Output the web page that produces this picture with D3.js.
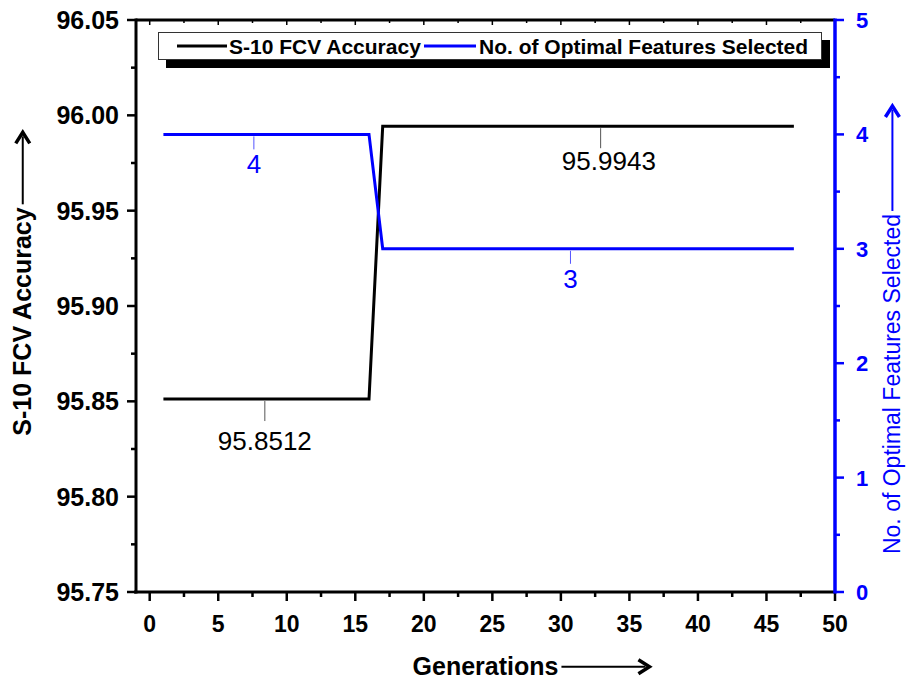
<!DOCTYPE html>
<html>
<head>
<meta charset="utf-8">
<script src="https://cdn.jsdelivr.net/npm/d3@7"></script>
<style>
  body { margin: 0; background: #fff; }
  text { font-family: "Liberation Sans", Arial, sans-serif; }
</style>
</head>
<body>
<svg id="chart" width="906" height="682"></svg>
<script>
// data
var generations = d3.range(1, 48);
var accuracy = generations.map(function (g) { return g <= 16 ? 95.8512 : 95.9943; });
var features = generations.map(function (g) { return g <= 16 ? 4 : 3; });
var xTicks = [0, 5, 10, 15, 20, 25, 30, 35, 40, 45, 50];
var yLeftTicks = [95.75, 95.80, 95.85, 95.90, 95.95, 96.00, 96.05];
var yRightTicks = [0, 1, 2, 3, 4, 5];
// value labels: tick mark x, text centre tx, text baseline ty (axis units)
var labels = [
    { series: "acc", x: 8.4, tx: 8.4, y: 95.8512, ty: 95.8245, text: "95.8512" },
    { series: "acc", x: 32.9, tx: 33.5, y: 95.9943, ty: 95.9715, text: "95.9943" },
    { series: "feat", x: 7.6, tx: 7.6, y: 4, ty: 3.66, text: "4" },
    { series: "feat", x: 30.7, tx: 30.7, y: 3, ty: 2.66, text: "3" }
];

var blue = "#0000ff";
var svg = d3.select("#chart");
var mLeft = 136, mRight = 835, mTop = 20, mBottom = 592;

var x = d3.scaleLinear().domain([-1, 50]).range([mLeft, mRight]);
var yL = d3.scaleLinear().domain([95.75, 96.05]).range([mBottom, mTop]);
var yR = d3.scaleLinear().domain([0, 5]).range([mBottom, mTop]);

// minor ticks halfway between majors
function minor(arr) {
    var out = [];
    for (var i = 0; i < arr.length - 1; i++) out.push((arr[i] + arr[i + 1]) / 2);
    return out;
}

// bottom axis
var gx = svg.append("g").attr("transform", "translate(0," + mBottom + ")");
gx.selectAll("line.maj").data(xTicks).enter().append("line")
    .attr("x1", function (d) { return x(d); }).attr("x2", function (d) { return x(d); })
    .attr("y1", 0).attr("y2", 9).attr("stroke", "#000").attr("stroke-width", 2.5);
gx.selectAll("line.min").data(minor(xTicks)).enter().append("line")
    .attr("x1", function (d) { return x(d); }).attr("x2", function (d) { return x(d); })
    .attr("y1", 0).attr("y2", 5).attr("stroke", "#000").attr("stroke-width", 2.5);
gx.selectAll("text").data(xTicks).enter().append("text")
    .attr("x", function (d) { return x(d); }).attr("y", 40)
    .attr("text-anchor", "middle").attr("font-size", 23).attr("font-weight", "bold")
    .text(function (d) { return d; });

// top frame ticks (inward)
var gt = svg.append("g").attr("transform", "translate(0," + mTop + ")");
gt.selectAll("line.maj").data(xTicks).enter().append("line")
    .attr("x1", function (d) { return x(d); }).attr("x2", function (d) { return x(d); })
    .attr("y1", 0).attr("y2", 5).attr("stroke", "#000").attr("stroke-width", 1.5);
gt.selectAll("line.min").data(minor(xTicks)).enter().append("line")
    .attr("x1", function (d) { return x(d); }).attr("x2", function (d) { return x(d); })
    .attr("y1", 0).attr("y2", 3).attr("stroke", "#000").attr("stroke-width", 1.5);

// left axis
var gl = svg.append("g").attr("transform", "translate(" + mLeft + ",0)");
gl.selectAll("line.maj").data(yLeftTicks).enter().append("line")
    .attr("y1", function (d) { return yL(d); }).attr("y2", function (d) { return yL(d); })
    .attr("x1", 0).attr("x2", -9).attr("stroke", "#000").attr("stroke-width", 2.5);
gl.selectAll("line.min").data(minor(yLeftTicks)).enter().append("line")
    .attr("y1", function (d) { return yL(d); }).attr("y2", function (d) { return yL(d); })
    .attr("x1", 0).attr("x2", -5).attr("stroke", "#000").attr("stroke-width", 2.5);
gl.selectAll("text").data(yLeftTicks).enter().append("text")
    .attr("x", -17).attr("y", function (d) { return yL(d) + 9; })
    .attr("text-anchor", "end").attr("font-size", 25).attr("font-weight", "bold")
    .text(function (d) { return d3.format(".2f")(d); });

// right axis
var gr = svg.append("g").attr("transform", "translate(" + mRight + ",0)");
gr.selectAll("line.maj").data(yRightTicks).enter().append("line")
    .attr("y1", function (d) { return yR(d); }).attr("y2", function (d) { return yR(d); })
    .attr("x1", 0).attr("x2", 9).attr("stroke", blue).attr("stroke-width", 2.5);
gr.selectAll("line.min").data(minor(yRightTicks)).enter().append("line")
    .attr("y1", function (d) { return yR(d); }).attr("y2", function (d) { return yR(d); })
    .attr("x1", 0).attr("x2", 5).attr("stroke", blue).attr("stroke-width", 2.5);
gr.selectAll("text").data(yRightTicks).enter().append("text")
    .attr("x", 21).attr("y", function (d) { return yR(d) + 8; })
    .attr("text-anchor", "start").attr("font-size", 22).attr("font-weight", "bold")
    .attr("fill", blue)
    .text(function (d) { return d; });

// frame
svg.append("line").attr("x1", mLeft).attr("x2", mRight).attr("y1", mTop).attr("y2", mTop)
    .attr("stroke", "#000").attr("stroke-width", 3);
svg.append("line").attr("x1", mLeft - 2).attr("x2", mRight).attr("y1", mBottom).attr("y2", mBottom)
    .attr("stroke", "#000").attr("stroke-width", 3);
svg.append("line").attr("x1", mLeft).attr("x2", mLeft).attr("y1", mTop - 1.5).attr("y2", mBottom + 1.5)
    .attr("stroke", "#000").attr("stroke-width", 3);
svg.append("line").attr("x1", mRight).attr("x2", mRight).attr("y1", mTop - 1.5).attr("y2", mBottom + 1.5)
    .attr("stroke", blue).attr("stroke-width", 3.5);

// series
var lineAcc = d3.line().x(function (d, i) { return x(generations[i]); }).y(function (d) { return yL(d); });
var lineFeat = d3.line().x(function (d, i) { return x(generations[i]); }).y(function (d) { return yR(d); });

svg.append("path").datum(accuracy).attr("d", lineAcc)
    .attr("fill", "none").attr("stroke", "#000").attr("stroke-width", 3);
svg.append("path").datum(features).attr("d", lineFeat)
    .attr("fill", "none").attr("stroke", blue).attr("stroke-width", 3);

// value annotations
labels.forEach(function (l) {
    var acc = l.series === "acc";
    var ys = acc ? yL : yR;
    var yy = ys(l.y);
    svg.append("line").attr("x1", x(l.x)).attr("x2", x(l.x))
        .attr("y1", yy + 2).attr("y2", yy + (acc ? 22 : 15))
        .attr("stroke", acc ? "#555" : "#5555ff").attr("stroke-width", 1);
    svg.append("text").attr("x", x(l.tx)).attr("y", ys(l.ty))
        .attr("text-anchor", "middle").attr("font-size", 26).attr("fill", acc ? "#000" : blue)
        .text(l.text);
});

// legend
var lg = svg.append("g");
lg.append("rect").attr("x", 166).attr("y", 40).attr("width", 664).attr("height", 28).attr("fill", "#000");
lg.append("rect").attr("x", 158.5).attr("y", 32.5).attr("width", 663).attr("height", 27)
    .attr("fill", "#fff").attr("stroke", "#333").attr("stroke-width", 1);
lg.append("line").attr("x1", 177).attr("x2", 227).attr("y1", 46).attr("y2", 46)
    .attr("stroke", "#000").attr("stroke-width", 3);
lg.append("text").attr("x", 229).attr("y", 54).attr("font-size", 21).attr("font-weight", "bold")
    .text("S-10 FCV Accuracy");
lg.append("line").attr("x1", 424).attr("x2", 476).attr("y1", 46).attr("y2", 46)
    .attr("stroke", blue).attr("stroke-width", 3);
lg.append("text").attr("x", 479).attr("y", 54).attr("font-size", 21).attr("font-weight", "bold")
    .text("No. of Optimal Features Selected");

// axis titles with arrows
function arrowTitle(g, txt, size, weight, col, arrowLen) {
    var t = g.append("text").attr("x", 0).attr("y", 0).attr("font-size", size)
        .attr("font-weight", weight).attr("fill", col).text(txt);
    var w = t.node().getComputedTextLength();
    var total = w + 3 + arrowLen;
    t.attr("x", -total / 2);
    var ax0 = -total / 2 + w + 3, ax1 = ax0 + arrowLen;
    var my = -size * 0.33;
    g.append("line").attr("x1", ax0).attr("x2", ax1 - 4).attr("y1", my).attr("y2", my)
        .attr("stroke", col).attr("stroke-width", 2);
    g.append("path").attr("d", "M" + (ax1 - 11) + "," + (my - 7) + "L" + ax1 + "," + my + "L" + (ax1 - 11) + "," + (my + 7))
        .attr("fill", "none").attr("stroke", col).attr("stroke-width", 3.5);
}

arrowTitle(svg.append("g").attr("transform", "translate(531,675)"),
    "Generations", 25, "bold", "#000", 88);
arrowTitle(svg.append("g").attr("transform", "translate(31,284) rotate(-90)"),
    "S-10 FCV Accuracy", 25, "bold", "#000", 72);
arrowTitle(svg.append("g").attr("transform", "translate(900,330) rotate(-90)"),
    "No. of Optimal Features Selected", 23, "normal", blue, 105);
</script>
</body>
</html>
